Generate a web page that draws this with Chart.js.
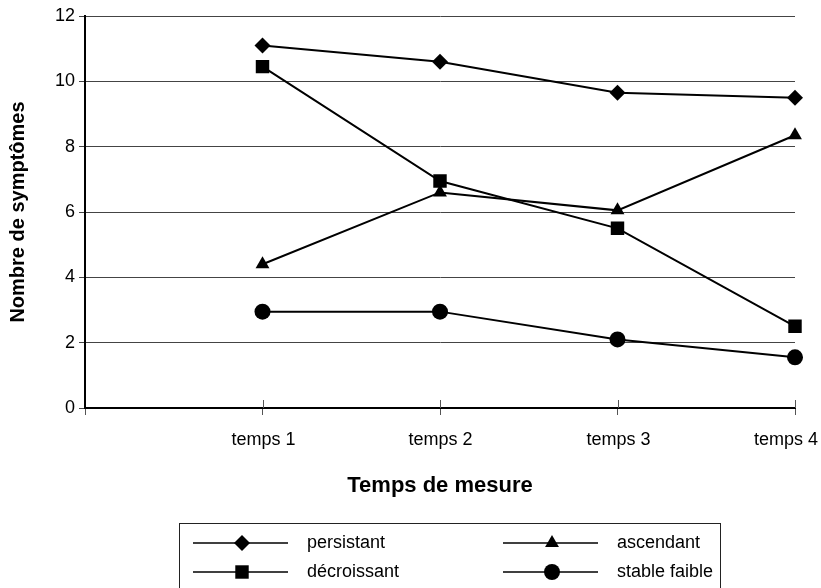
<!DOCTYPE html>
<html>
<head>
<meta charset="utf-8">
<script src="https://cdn.jsdelivr.net/npm/chart.js@4/dist/chart.umd.min.js"></script>
<style>
  html, body { margin: 0; padding: 0; background: #fff; }
  #wrap { width: 821px; height: 588px; }
</style>
</head>
<body>
<div id="wrap"><canvas id="mycanvas"></canvas></div>
<script>
var temps = ['', 'temps 1', 'temps 2', 'temps 3', 'temps 4'];
var persistant = [null, 11.1, 10.6, 9.65, 9.5];
var decroissant = [null, 10.45, 6.95, 5.5, 2.5];
var ascendant = [null, 4.4, 6.6, 6.05, 8.35];
var stableFaible = [null, 2.95, 2.95, 2.1, 1.55];

var FONT = '"Liberation Sans", Arial, Helvetica, sans-serif';

function serie(label, data, style, radius) {
	return {
		label: label,
		data: data,
		borderColor: '#000',
		backgroundColor: '#000',
		borderWidth: 2,
		pointStyle: style,
		pointRadius: radius,
		pointHoverRadius: radius,
		pointBorderWidth: 0,
		pointBackgroundColor: '#000',
		tension: 0,
		spanGaps: true
	};
}

// legend box under the chart, two columns
var boxLegend = {
	id: 'boxLegend',
	afterDraw: function(chart) {
		var ctx = chart.ctx;
		ctx.save();
		ctx.strokeStyle = '#222';
		ctx.lineWidth = 1;
		ctx.strokeRect(179.5, 523.5, 541, 80);
		var pos = [[193, 543], [503, 543], [193, 572], [503, 572]];
		chart.data.datasets.forEach(function(ds, i) {
			var p = pos[i];
			ctx.strokeStyle = '#000';
			ctx.lineWidth = 1.5;
			ctx.beginPath();
			ctx.moveTo(p[0], p[1]);
			ctx.lineTo(p[0] + 95, p[1]);
			ctx.stroke();
			ctx.fillStyle = '#000';
			Chart.helpers.drawPoint(ctx, {pointStyle: ds.pointStyle, radius: ds.pointRadius, borderWidth: 0}, p[0] + 49, p[1]);
			ctx.font = '18px ' + FONT;
			ctx.textBaseline = 'middle';
			ctx.textAlign = 'left';
			ctx.fillText(ds.label, p[0] + 114, p[1]);
		});
		ctx.restore();
	}
};

// x tick marks crossing the axis line, and the x labels kept inside the canvas
var xLabels = {
	id: 'xLabels',
	afterDraw: function(chart) {
		var ctx = chart.ctx, xs = chart.scales.x, b = chart.chartArea.bottom;
		ctx.save();
		ctx.strokeStyle = '#555';
		ctx.lineWidth = 1;
		ctx.font = '18px ' + FONT;
		ctx.fillStyle = '#000';
		ctx.textAlign = 'center';
		ctx.textBaseline = 'middle';
		xs.ticks.forEach(function(t, i) {
			if (i === 0) return;
			var px = Math.round(xs.getPixelForTick(i)) + 0.5;
			ctx.beginPath();
			ctx.moveTo(px, b - 8);
			ctx.lineTo(px, b);
			ctx.stroke();
			var txt = temps[i];
			var w = ctx.measureText(txt).width;
			var cx = Math.min(px, chart.width - 3 - w / 2);
			ctx.fillText(txt, cx, b + 32);
		});
		ctx.restore();
	}
};

var ctx = document.getElementById('mycanvas');
new Chart(ctx, {
	type: 'line',
	data: {
		labels: temps,
		datasets: [
			serie('persistant', persistant, 'rectRot', 8),
			serie('ascendant', ascendant, 'triangle', 8),
			serie('décroissant', decroissant, 'rect', 9.5),
			serie('stable faible', stableFaible, 'circle', 8)
		]
	},
	options: {
		responsive: true,
		maintainAspectRatio: false,
		animation: false,
		layout: { padding: { top: 16, right: 26, bottom: 68, left: 0 } },
		plugins: {
			legend: { display: false },
			tooltip: { enabled: false }
		},
		scales: {
			x: {
				offset: false,
				afterFit: function(scale) { scale.height = 112; scale.paddingRight = 0; scale.paddingLeft = 0; },
				grid: { drawOnChartArea: false, tickLength: 7, color: '#555', lineWidth: 1 },
				border: { color: '#000', width: 2 },
				ticks: { display: false },
				title: { display: true, text: 'Temps de mesure', color: '#000',
					font: { family: FONT, size: 22, weight: 'bold' }, padding: { top: 0, bottom: 21 } }
			},
			y: {
				min: 0,
				max: 12,
				afterFit: function(scale) { scale.width = 85; scale.paddingTop = 0; scale.paddingBottom = 0; },
				grid: { color: '#444', lineWidth: 1, tickLength: 6 },
				border: { color: '#000', width: 2 },
				ticks: { stepSize: 2, color: '#000', font: { family: FONT, size: 18 }, padding: 4 },
				title: { display: true, text: 'Nombre de symptômes', color: '#000',
					font: { family: FONT, size: 20, weight: 'bold' }, padding: { top: 6, bottom: 0 } }
			}
		}
	},
	plugins: [boxLegend, xLabels]
});
</script>
</body>
</html>
